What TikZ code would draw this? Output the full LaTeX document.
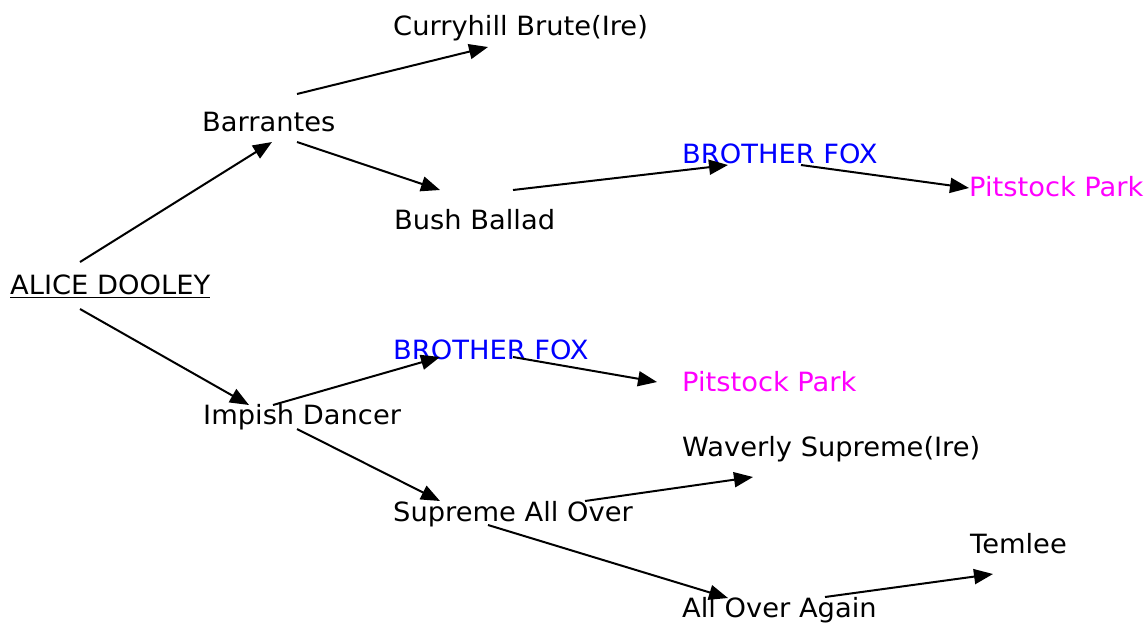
\documentclass[tikz,border=0pt]{standalone}
\usepackage{fontspec}
\setmainfont{DejaVu Sans}[FakeStretch=1.03]
\usetikzlibrary{arrows.meta}
\definecolor{pitpink}{RGB}{255,0,255}
\definecolor{foxblue}{RGB}{0,0,255}
\tikzset{
  horse/.style={anchor=base west,inner sep=0pt,font=\fontsize{26.5}{30}\selectfont},
  link/.style={line width=2pt,-{Triangle[length=19pt,width=15pt]}}
}
\begin{document}
\begin{tikzpicture}[x=1pt,y=-1pt]
    \useasboundingbox (0,0) rectangle (1145,622);
    \node[horse] (curry) at (393,35) {Curryhill Brute(Ire)};
    \node[horse] (barr) at (202,131) {Barrantes};
    \node[horse,text=foxblue] (foxa) at (682,163) {BROTHER FOX};
    \node[horse,text=pitpink] (pita) at (969,196) {Pitstock Park};
    \node[horse] (bush) at (394,229) {Bush Ballad};
    \node[horse] (alice) at (10,294) {ALICE DOOLEY};
    \node[horse,text=foxblue] (foxb) at (393,359) {BROTHER FOX};
    \node[horse,text=pitpink] (pitb) at (682,391) {Pitstock Park};
    \node[horse] (impish) at (203,424) {Impish Dancer};
    \node[horse] (waverly) at (682,456) {Waverly Supreme(Ire)};
    \node[horse] (supreme) at (393,521) {Supreme All Over};
    \node[horse] (temlee) at (970,553) {Temlee};
    \node[horse] (again) at (682,617) {All Over Again};
    \draw[line width=1.6pt] ([yshift=-3.5pt]alice.base west) -- ([yshift=-3.5pt]alice.base east);
    % arrow ends
    \coordinate (alice1) at (80,262);
    \coordinate (alice2) at (80,309);
    \coordinate (barr1) at (297,94);
    \coordinate (barr2) at (297,142);
    \coordinate (bush1) at (513,190);
    \coordinate (foxa1) at (801,165);
    \coordinate (impish1) at (273,405);
    \coordinate (impish2) at (297,429);
    \coordinate (foxb1) at (513,357);
    \coordinate (supreme1) at (585,501);
    \coordinate (supreme2) at (488,525);
    \coordinate (again1) at (825,597);
    \coordinate (barr0) at (272,142);
    \coordinate (impish0) at (249,405);
    \coordinate (curry0) at (488,47);
    \coordinate (bush0) at (440,190);
    \coordinate (foxa0) at (728,165);
    \coordinate (pita0) at (969,188);
    \coordinate (foxb0) at (440,357);
    \coordinate (pitb0) at (657,382);
    \coordinate (supreme0) at (440,501);
    \coordinate (waverly0) at (753,477);
    \coordinate (again0) at (728,598);
    \coordinate (temlee0) at (993,574);
    \draw[link] (alice1) -- (barr0);
    \draw[link] (alice2) -- (impish0);
    \draw[link] (barr1) -- (curry0);
    \draw[link] (barr2) -- (bush0);
    \draw[link] (bush1) -- (foxa0);
    \draw[link] (foxa1) -- (pita0);
    \draw[link] (impish1) -- (foxb0);
    \draw[link] (foxb1) -- (pitb0);
    \draw[link] (impish2) -- (supreme0);
    \draw[link] (supreme1) -- (waverly0);
    \draw[link] (supreme2) -- (again0);
    \draw[link] (again1) -- (temlee0);
\end{tikzpicture}
\end{document}
